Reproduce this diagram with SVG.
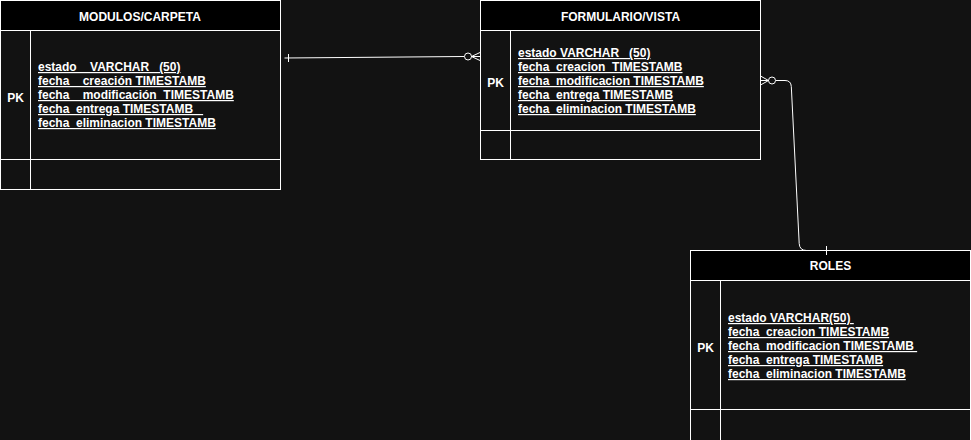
<svg xmlns="http://www.w3.org/2000/svg" width="971" height="440" viewBox="0 0 971 440" xml:space="preserve">
<style>
.bg{fill:#121212}
.hd{fill:#000000;stroke:#ffffff;stroke-width:1}
.bd{fill:#121212;stroke:#ffffff;stroke-width:1}
.ln{stroke:#ffffff;stroke-width:1;fill:none}
text{font-family:"Liberation Sans",Arial,Helvetica,sans-serif;font-size:12px;font-weight:bold;fill:#ffffff;white-space:pre}
.t{text-anchor:middle}
.f{text-decoration:underline;text-decoration-color:#c8c8c8}
.pk{text-anchor:middle}
.cn{stroke:#ffffff;stroke-width:1;fill:none}
.cc{stroke:#ffffff;stroke-width:1;fill:#121212}
</style>
<rect class="bg" x="0" y="0" width="971" height="440"/>

<g id="modulos">
<rect class="bd" x="0.5" y="0.5" width="280" height="189"/>
<rect class="hd" x="0.5" y="0.5" width="280" height="30"/>
<line class="ln" x1="0.5" y1="159.5" x2="280.5" y2="159.5"/>
<line class="ln" x1="30.5" y1="30.5" x2="30.5" y2="189.5"/>
<text class="t" x="140" y="20.5">MODULOS/CARPETA</text>
<text class="pk" x="15.5" y="101.5">PK</text>
<text class="f" x="38" y="71">estado    VARCHAR   (50)</text>
<text class="f" x="38" y="85">fecha _ creación TIMESTAMB</text>
<text class="f" x="38" y="99">fecha _ modificación  TIMESTAMB</text>
<text class="f" x="38" y="113">fecha_entrega TIMESTAMB   </text>
<text class="f" x="38" y="127">fecha_eliminacion TIMESTAMB</text>
</g>

<g id="formulario">
<rect class="bd" x="480.5" y="0.5" width="280" height="159"/>
<rect class="hd" x="480.5" y="0.5" width="280" height="30"/>
<line class="ln" x1="480.5" y1="130.5" x2="760.5" y2="130.5"/>
<line class="ln" x1="510.5" y1="30.5" x2="510.5" y2="159.5"/>
<text class="t" x="620.5" y="20.5">FORMULARIO/VISTA</text>
<text class="pk" x="495.5" y="86.5">PK</text>
<text class="f" x="518" y="57">estado VARCHAR   (50)</text>
<text class="f" x="518" y="71">fecha_creacion  TIMESTAMB</text>
<text class="f" x="518" y="85">fecha_modificacion TIMESTAMB</text>
<text class="f" x="518" y="99">fecha_entrega TIMESTAMB</text>
<text class="f" x="518" y="113">fecha_eliminacion TIMESTAMB</text>
</g>

<g id="roles">
<rect class="bd" x="690.5" y="250.5" width="280" height="200"/>
<rect class="hd" x="690.5" y="250.5" width="280" height="30"/>
<line class="ln" x1="690.5" y1="409.5" x2="970.5" y2="409.5"/>
<line class="ln" x1="720.5" y1="280.5" x2="720.5" y2="440"/>
<text class="t" x="830.5" y="270">ROLES</text>
<text class="pk" x="705.5" y="351.5">PK</text>
<text class="f" x="728" y="322">estado VARCHAR(50) </text>
<text class="f" x="728" y="336">fecha_creacion TIMESTAMB</text>
<text class="f" x="728" y="350">fecha_modificacion TIMESTAMB </text>
<text class="f" x="728" y="364">fecha_entrega TIMESTAMB</text>
<text class="f" x="728" y="378">fecha_eliminacion TIMESTAMB</text>
</g>

<g id="connectors">
<path class="cn" d="M284.5 58 L464.5 56.5"/>
<line class="cn" x1="288.5" y1="54" x2="288.5" y2="62"/>
<circle class="cc" cx="468" cy="56.5" r="3.5"/>
<path class="cn" d="M480 52.5 L471.5 56.5 L480 60.5 M471.5 56.5 L480 56.5"/>

<path class="cn" d="M775.5 80.5 L785 80.5 Q791 80.5 791.3 86.5 L799.2 243.5 Q799.6 250.5 806.5 250.5 L826 250.5"/>
<circle class="cc" cx="772" cy="80.5" r="3.5"/>
<path class="cn" d="M760.5 76 L768.5 80.5 L760.5 85 M768.5 80.5 L760.5 80.5"/>
<line class="cn" x1="826.5" y1="246" x2="826.5" y2="255"/>
</g>
</svg>
